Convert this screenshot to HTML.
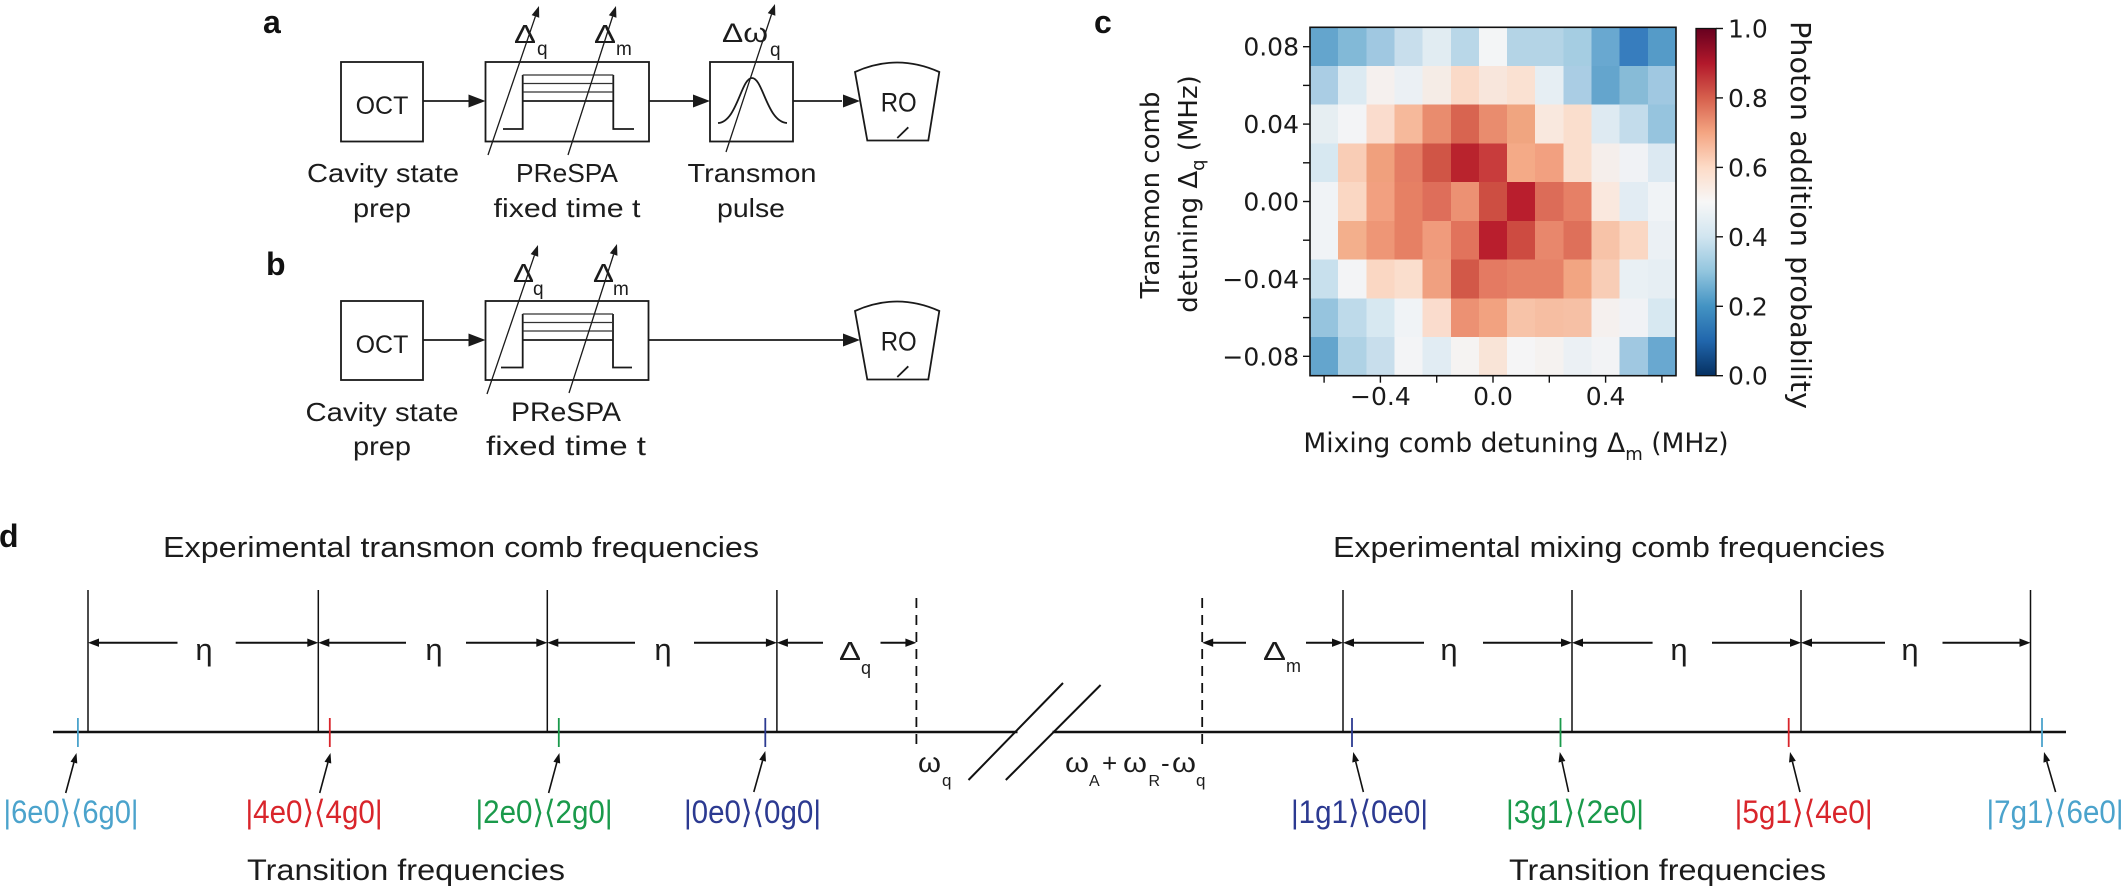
<!DOCTYPE html>
<html>
<head>
<meta charset="utf-8">
<style>
html,body{margin:0;padding:0;background:#fff;}
svg{display:block;}
.t{font-family:"Liberation Sans","DejaVu Sans",sans-serif;fill:#1c1c1c;}
.m{font-family:"DejaVu Sans","Liberation Sans",sans-serif;fill:#1a1a1a;}
.b{font-family:"Liberation Sans",sans-serif;font-weight:bold;fill:#111;}
</style>
</head>
<body>
<svg width="2124" height="888" viewBox="0 0 2124 888" xmlns="http://www.w3.org/2000/svg">
<rect width="2124" height="888" fill="#fff"/>

<!-- ================= PANEL A ================= -->
<text class="b" x="263" y="33" font-size="32">a</text>
<g stroke="#1a1a1a" stroke-width="1.8" fill="none">
  <rect x="341" y="62" width="82" height="79.5"/>
  <rect x="485.5" y="62" width="163.5" height="79.5"/>
  <rect x="710" y="62" width="83" height="79.5"/>
  <path d="M855,72 Q897,53 939.3,72 L928.3,140.5 L867.3,140.5 Z"/>
  <line x1="897.3" y1="138" x2="908.3" y2="127.3"/>
  <path d="M503,129 H522.7 V75 M522.7,101 H613.3 M613.3,75 V129 H634"/>
  <path d="M718,123 C737,122 741,78 752,78 C763,78 767,122 787,123"/>
  <line x1="423" y1="101" x2="470" y2="101"/>
  <line x1="649" y1="101" x2="695" y2="101"/>
  <line x1="793" y1="101" x2="842" y2="101"/>
</g>
<g stroke="#333" stroke-width="1.2">
  <line x1="522.7" y1="75" x2="613.3" y2="75"/>
  <line x1="522.7" y1="83.5" x2="613.3" y2="83.5"/>
  <line x1="522.7" y1="92" x2="613.3" y2="92"/>
</g>
<g fill="#1a1a1a">
  <polygon points="485.5,101 468.5,94.5 468.5,107.5"/>
  <polygon points="710,101 693,94.5 693,107.5"/>
  <polygon points="860,101 843,94.5 843,107.5"/>
</g>
<g stroke="#1a1a1a" stroke-width="1.3">
  <line x1="488" y1="155" x2="535.4" y2="16.4"/>
  <line x1="568" y1="155" x2="612.6" y2="16.5"/>
  <line x1="726" y1="152" x2="771.5" y2="14.4"/>
</g>
<g fill="#1a1a1a">
  <polygon points="539,6 539.22,17.71 531.66,15.11"/>
  <polygon points="616,6 616.44,17.70 608.82,15.24"/>
  <polygon points="775,4 775.34,15.70 767.74,13.18"/>
</g>
<text class="t" x="382" y="114" font-size="25" text-anchor="middle">OCT</text>
<text class="t" x="898.7" y="111.7" font-size="27" text-anchor="middle" textLength="36" lengthAdjust="spacingAndGlyphs">RO</text>
<text class="t" x="514" y="43" font-size="26" textLength="22" lengthAdjust="spacingAndGlyphs">Δ</text>
<text class="t" x="537" y="55" font-size="19">q</text>
<text class="t" x="594" y="43" font-size="26" textLength="22" lengthAdjust="spacingAndGlyphs">Δ</text>
<text class="t" x="616" y="55" font-size="19">m</text>
<text class="t" x="722" y="42" font-size="27" textLength="46" lengthAdjust="spacingAndGlyphs">Δω</text>
<text class="t" x="770" y="56" font-size="19">q</text>
<text class="t" x="383" y="182" font-size="26" text-anchor="middle" textLength="152" lengthAdjust="spacingAndGlyphs">Cavity state</text>
<text class="t" x="382" y="217" font-size="26" text-anchor="middle" textLength="58" lengthAdjust="spacingAndGlyphs">prep</text>
<text class="t" x="567" y="182" font-size="26" text-anchor="middle" textLength="102" lengthAdjust="spacingAndGlyphs">PReSPA</text>
<text class="t" x="567" y="217" font-size="26" text-anchor="middle" textLength="147" lengthAdjust="spacingAndGlyphs">fixed time t</text>
<text class="t" x="752" y="182" font-size="26" text-anchor="middle" textLength="129" lengthAdjust="spacingAndGlyphs">Transmon</text>
<text class="t" x="751" y="217" font-size="26" text-anchor="middle" textLength="68" lengthAdjust="spacingAndGlyphs">pulse</text>

<!-- ================= PANEL B ================= -->
<text class="b" x="266" y="275" font-size="32">b</text>
<g stroke="#1a1a1a" stroke-width="1.8" fill="none">
  <rect x="341" y="301" width="82" height="79"/>
  <rect x="485.5" y="301" width="163" height="79"/>
  <path d="M855,311 Q897,292 939.3,311 L928.3,379.5 L867.3,379.5 Z"/>
  <line x1="897.3" y1="377" x2="908.3" y2="366.3"/>
  <path d="M501,367.5 H522.7 V314 M522.7,340 H613 M613,314 V367.5 H632"/>
  <line x1="423" y1="340" x2="470" y2="340"/>
  <line x1="648.5" y1="340" x2="845" y2="340"/>
</g>
<g stroke="#333" stroke-width="1.2">
  <line x1="522.7" y1="314" x2="613" y2="314"/>
  <line x1="522.7" y1="322.5" x2="613" y2="322.5"/>
  <line x1="522.7" y1="331" x2="613" y2="331"/>
</g>
<g fill="#1a1a1a">
  <polygon points="485.5,340 468.5,333.5 468.5,346.5"/>
  <polygon points="860,340 843,333.5 843,346.5"/>
</g>
<g stroke="#1a1a1a" stroke-width="1.3">
  <line x1="487" y1="394" x2="534.4" y2="255.4"/>
  <line x1="569" y1="393" x2="613.6" y2="254.5"/>
</g>
<g fill="#1a1a1a">
  <polygon points="538,245 538.22,256.71 530.66,254.11"/>
  <polygon points="617,244 617.44,255.70 609.82,253.24"/>
</g>
<text class="t" x="382" y="353" font-size="25" text-anchor="middle">OCT</text>
<text class="t" x="898.7" y="350.7" font-size="27" text-anchor="middle" textLength="36" lengthAdjust="spacingAndGlyphs">RO</text>
<text class="t" x="513" y="282" font-size="26" textLength="21" lengthAdjust="spacingAndGlyphs">Δ</text>
<text class="t" x="533" y="295" font-size="19">q</text>
<text class="t" x="593" y="282" font-size="26" textLength="21" lengthAdjust="spacingAndGlyphs">Δ</text>
<text class="t" x="613" y="295" font-size="19">m</text>
<text class="t" x="382" y="421" font-size="26" text-anchor="middle" textLength="153" lengthAdjust="spacingAndGlyphs">Cavity state</text>
<text class="t" x="382" y="455" font-size="26" text-anchor="middle" textLength="58" lengthAdjust="spacingAndGlyphs">prep</text>
<text class="t" x="566" y="421" font-size="27" text-anchor="middle" textLength="110" lengthAdjust="spacingAndGlyphs">PReSPA</text>
<text class="t" x="566" y="455" font-size="27" text-anchor="middle" textLength="160" lengthAdjust="spacingAndGlyphs">fixed time t</text>

<!-- ================= PANEL C ================= -->
<text class="b" x="1094" y="33" font-size="32">c</text>
<svg x="1310" y="27.3" width="366" height="348.4" viewBox="0 0 13 9" preserveAspectRatio="none" shape-rendering="crispEdges">
<g>
<rect x="0" y="0" width="1.05" height="1.05" fill="rgb(100,165,205)"/>
<rect x="1" y="0" width="1.05" height="1.05" fill="rgb(130,185,215)"/>
<rect x="2" y="0" width="1.05" height="1.05" fill="rgb(160,200,225)"/>
<rect x="3" y="0" width="1.05" height="1.05" fill="rgb(200,222,236)"/>
<rect x="4" y="0" width="1.05" height="1.05" fill="rgb(225,236,242)"/>
<rect x="5" y="0" width="1.05" height="1.05" fill="rgb(185,215,232)"/>
<rect x="6" y="0" width="1.05" height="1.05" fill="rgb(243,245,246)"/>
<rect x="7" y="0" width="1.05" height="1.05" fill="rgb(180,212,230)"/>
<rect x="8" y="0" width="1.05" height="1.05" fill="rgb(180,212,230)"/>
<rect x="9" y="0" width="1.05" height="1.05" fill="rgb(165,205,226)"/>
<rect x="10" y="0" width="1.05" height="1.05" fill="rgb(105,168,208)"/>
<rect x="11" y="0" width="1.05" height="1.05" fill="rgb(55,125,190)"/>
<rect x="12" y="0" width="1.05" height="1.05" fill="rgb(85,155,200)"/>

<rect x="0" y="1" width="1.05" height="1.05" fill="rgb(170,205,228)"/>
<rect x="1" y="1" width="1.05" height="1.05" fill="rgb(220,234,242)"/>
<rect x="2" y="1" width="1.05" height="1.05" fill="rgb(245,240,238)"/>
<rect x="3" y="1" width="1.05" height="1.05" fill="rgb(235,240,244)"/>
<rect x="4" y="1" width="1.05" height="1.05" fill="rgb(245,236,230)"/>
<rect x="5" y="1" width="1.05" height="1.05" fill="rgb(250,218,200)"/>
<rect x="6" y="1" width="1.05" height="1.05" fill="rgb(248,230,220)"/>
<rect x="7" y="1" width="1.05" height="1.05" fill="rgb(250,225,210)"/>
<rect x="8" y="1" width="1.05" height="1.05" fill="rgb(230,238,243)"/>
<rect x="9" y="1" width="1.05" height="1.05" fill="rgb(170,205,228)"/>
<rect x="10" y="1" width="1.05" height="1.05" fill="rgb(100,165,205)"/>
<rect x="11" y="1" width="1.05" height="1.05" fill="rgb(135,187,215)"/>
<rect x="12" y="1" width="1.05" height="1.05" fill="rgb(160,200,225)"/>

<rect x="0" y="2" width="1.05" height="1.05" fill="rgb(230,238,242)"/>
<rect x="1" y="2" width="1.05" height="1.05" fill="rgb(243,244,246)"/>
<rect x="2" y="2" width="1.05" height="1.05" fill="rgb(250,220,205)"/>
<rect x="3" y="2" width="1.05" height="1.05" fill="rgb(246,185,155)"/>
<rect x="4" y="2" width="1.05" height="1.05" fill="rgb(233,140,110)"/>
<rect x="5" y="2" width="1.05" height="1.05" fill="rgb(216,100,80)"/>
<rect x="6" y="2" width="1.05" height="1.05" fill="rgb(233,140,110)"/>
<rect x="7" y="2" width="1.05" height="1.05" fill="rgb(240,165,128)"/>
<rect x="8" y="2" width="1.05" height="1.05" fill="rgb(249,232,222)"/>
<rect x="9" y="2" width="1.05" height="1.05" fill="rgb(250,222,205)"/>
<rect x="10" y="2" width="1.05" height="1.05" fill="rgb(222,234,242)"/>
<rect x="11" y="2" width="1.05" height="1.05" fill="rgb(195,220,235)"/>
<rect x="12" y="2" width="1.05" height="1.05" fill="rgb(150,196,222)"/>

<rect x="0" y="3" width="1.05" height="1.05" fill="rgb(215,232,241)"/>
<rect x="1" y="3" width="1.05" height="1.05" fill="rgb(249,205,182)"/>
<rect x="2" y="3" width="1.05" height="1.05" fill="rgb(240,160,125)"/>
<rect x="3" y="3" width="1.05" height="1.05" fill="rgb(228,125,100)"/>
<rect x="4" y="3" width="1.05" height="1.05" fill="rgb(208,85,70)"/>
<rect x="5" y="3" width="1.05" height="1.05" fill="rgb(185,35,45)"/>
<rect x="6" y="3" width="1.05" height="1.05" fill="rgb(200,60,60)"/>
<rect x="7" y="3" width="1.05" height="1.05" fill="rgb(244,170,135)"/>
<rect x="8" y="3" width="1.05" height="1.05" fill="rgb(242,160,128)"/>
<rect x="9" y="3" width="1.05" height="1.05" fill="rgb(250,222,205)"/>
<rect x="10" y="3" width="1.05" height="1.05" fill="rgb(245,238,235)"/>
<rect x="11" y="3" width="1.05" height="1.05" fill="rgb(240,242,245)"/>
<rect x="12" y="3" width="1.05" height="1.05" fill="rgb(220,233,242)"/>

<rect x="0" y="4" width="1.05" height="1.05" fill="rgb(240,243,246)"/>
<rect x="1" y="4" width="1.05" height="1.05" fill="rgb(250,215,195)"/>
<rect x="2" y="4" width="1.05" height="1.05" fill="rgb(242,160,128)"/>
<rect x="3" y="4" width="1.05" height="1.05" fill="rgb(230,128,100)"/>
<rect x="4" y="4" width="1.05" height="1.05" fill="rgb(222,110,90)"/>
<rect x="5" y="4" width="1.05" height="1.05" fill="rgb(236,145,115)"/>
<rect x="6" y="4" width="1.05" height="1.05" fill="rgb(205,78,66)"/>
<rect x="7" y="4" width="1.05" height="1.05" fill="rgb(185,30,45)"/>
<rect x="8" y="4" width="1.05" height="1.05" fill="rgb(220,108,88)"/>
<rect x="9" y="4" width="1.05" height="1.05" fill="rgb(230,128,102)"/>
<rect x="10" y="4" width="1.05" height="1.05" fill="rgb(250,232,222)"/>
<rect x="11" y="4" width="1.05" height="1.05" fill="rgb(226,236,243)"/>
<rect x="12" y="4" width="1.05" height="1.05" fill="rgb(240,243,246)"/>

<rect x="0" y="5" width="1.05" height="1.05" fill="rgb(240,243,246)"/>
<rect x="1" y="5" width="1.05" height="1.05" fill="rgb(243,175,140)"/>
<rect x="2" y="5" width="1.05" height="1.05" fill="rgb(238,150,118)"/>
<rect x="3" y="5" width="1.05" height="1.05" fill="rgb(230,128,100)"/>
<rect x="4" y="5" width="1.05" height="1.05" fill="rgb(240,155,124)"/>
<rect x="5" y="5" width="1.05" height="1.05" fill="rgb(225,115,92)"/>
<rect x="6" y="5" width="1.05" height="1.05" fill="rgb(185,30,45)"/>
<rect x="7" y="5" width="1.05" height="1.05" fill="rgb(205,75,65)"/>
<rect x="8" y="5" width="1.05" height="1.05" fill="rgb(232,135,108)"/>
<rect x="9" y="5" width="1.05" height="1.05" fill="rgb(222,112,90)"/>
<rect x="10" y="5" width="1.05" height="1.05" fill="rgb(247,195,168)"/>
<rect x="11" y="5" width="1.05" height="1.05" fill="rgb(250,215,195)"/>
<rect x="12" y="5" width="1.05" height="1.05" fill="rgb(235,240,244)"/>

<rect x="0" y="6" width="1.05" height="1.05" fill="rgb(200,224,237)"/>
<rect x="1" y="6" width="1.05" height="1.05" fill="rgb(243,244,246)"/>
<rect x="2" y="6" width="1.05" height="1.05" fill="rgb(250,215,195)"/>
<rect x="3" y="6" width="1.05" height="1.05" fill="rgb(250,222,205)"/>
<rect x="4" y="6" width="1.05" height="1.05" fill="rgb(240,160,128)"/>
<rect x="5" y="6" width="1.05" height="1.05" fill="rgb(210,88,72)"/>
<rect x="6" y="6" width="1.05" height="1.05" fill="rgb(228,122,98)"/>
<rect x="7" y="6" width="1.05" height="1.05" fill="rgb(230,130,103)"/>
<rect x="8" y="6" width="1.05" height="1.05" fill="rgb(230,130,103)"/>
<rect x="9" y="6" width="1.05" height="1.05" fill="rgb(242,165,130)"/>
<rect x="10" y="6" width="1.05" height="1.05" fill="rgb(248,205,182)"/>
<rect x="11" y="6" width="1.05" height="1.05" fill="rgb(233,240,244)"/>
<rect x="12" y="6" width="1.05" height="1.05" fill="rgb(230,238,243)"/>

<rect x="0" y="7" width="1.05" height="1.05" fill="rgb(150,196,222)"/>
<rect x="1" y="7" width="1.05" height="1.05" fill="rgb(190,218,234)"/>
<rect x="2" y="7" width="1.05" height="1.05" fill="rgb(215,232,241)"/>
<rect x="3" y="7" width="1.05" height="1.05" fill="rgb(240,243,246)"/>
<rect x="4" y="7" width="1.05" height="1.05" fill="rgb(250,220,205)"/>
<rect x="5" y="7" width="1.05" height="1.05" fill="rgb(236,145,115)"/>
<rect x="6" y="7" width="1.05" height="1.05" fill="rgb(242,162,128)"/>
<rect x="7" y="7" width="1.05" height="1.05" fill="rgb(247,195,168)"/>
<rect x="8" y="7" width="1.05" height="1.05" fill="rgb(246,190,162)"/>
<rect x="9" y="7" width="1.05" height="1.05" fill="rgb(246,192,165)"/>
<rect x="10" y="7" width="1.05" height="1.05" fill="rgb(245,240,238)"/>
<rect x="11" y="7" width="1.05" height="1.05" fill="rgb(240,242,245)"/>
<rect x="12" y="7" width="1.05" height="1.05" fill="rgb(215,232,241)"/>

<rect x="0" y="8" width="1.05" height="1.05" fill="rgb(100,165,205)"/>
<rect x="1" y="8" width="1.05" height="1.05" fill="rgb(175,210,229)"/>
<rect x="2" y="8" width="1.05" height="1.05" fill="rgb(200,222,236)"/>
<rect x="3" y="8" width="1.05" height="1.05" fill="rgb(243,244,246)"/>
<rect x="4" y="8" width="1.05" height="1.05" fill="rgb(225,236,243)"/>
<rect x="5" y="8" width="1.05" height="1.05" fill="rgb(245,243,242)"/>
<rect x="6" y="8" width="1.05" height="1.05" fill="rgb(249,228,215)"/>
<rect x="7" y="8" width="1.05" height="1.05" fill="rgb(245,245,246)"/>
<rect x="8" y="8" width="1.05" height="1.05" fill="rgb(245,242,240)"/>
<rect x="9" y="8" width="1.05" height="1.05" fill="rgb(235,240,244)"/>
<rect x="10" y="8" width="1.05" height="1.05" fill="rgb(242,243,245)"/>
<rect x="11" y="8" width="1.05" height="1.05" fill="rgb(160,200,225)"/>
<rect x="12" y="8" width="1.05" height="1.05" fill="rgb(105,168,208)"/>
</g>
</svg>
<rect x="1310" y="27.3" width="366" height="348.4" fill="none" stroke="#111" stroke-width="1.6"/>
<g stroke="#111" stroke-width="1.4">
  <line x1="1303" y1="46.7" x2="1310" y2="46.7"/>
  <line x1="1303" y1="85.4" x2="1310" y2="85.4"/>
  <line x1="1303" y1="124.1" x2="1310" y2="124.1"/>
  <line x1="1303" y1="162.8" x2="1310" y2="162.8"/>
  <line x1="1303" y1="201.5" x2="1310" y2="201.5"/>
  <line x1="1303" y1="240.2" x2="1310" y2="240.2"/>
  <line x1="1303" y1="278.9" x2="1310" y2="278.9"/>
  <line x1="1303" y1="317.6" x2="1310" y2="317.6"/>
  <line x1="1303" y1="356.3" x2="1310" y2="356.3"/>
  <line x1="1324.1" y1="375.7" x2="1324.1" y2="382.7"/>
  <line x1="1380.4" y1="375.7" x2="1380.4" y2="382.7"/>
  <line x1="1436.7" y1="375.7" x2="1436.7" y2="382.7"/>
  <line x1="1493" y1="375.7" x2="1493" y2="382.7"/>
  <line x1="1549.3" y1="375.7" x2="1549.3" y2="382.7"/>
  <line x1="1605.6" y1="375.7" x2="1605.6" y2="382.7"/>
  <line x1="1661.9" y1="375.7" x2="1661.9" y2="382.7"/>
</g>
<g class="m" font-size="25" text-anchor="end">
  <text x="1299" y="55.7">0.08</text>
  <text x="1299" y="133.1">0.04</text>
  <text x="1299" y="210.5">0.00</text>
  <text x="1299" y="287.9">−0.04</text>
  <text x="1299" y="365.3">−0.08</text>
</g>
<g class="m" font-size="25" text-anchor="middle">
  <text x="1380.4" y="405">−0.4</text>
  <text x="1493" y="405">0.0</text>
  <text x="1605.6" y="405">0.4</text>
</g>
<text class="m" font-size="26" text-anchor="middle" transform="translate(1159,195) rotate(-90)">Transmon comb</text>
<text class="m" font-size="26" text-anchor="middle" transform="translate(1197,194) rotate(-90)">detuning Δ<tspan font-size="18" dy="7">q</tspan><tspan dy="-7"> (MHz)</tspan></text>
<text class="m" font-size="26.5" text-anchor="middle" x="1516" y="452">Mixing comb detuning Δ<tspan font-size="18" dy="8">m</tspan><tspan dy="-8"> (MHz)</tspan></text>

<defs>
<linearGradient id="rdbu" x1="0" y1="0" x2="0" y2="1">
  <stop offset="0" stop-color="#67001f"/>
  <stop offset="0.1" stop-color="#b2182b"/>
  <stop offset="0.2" stop-color="#d6604d"/>
  <stop offset="0.3" stop-color="#f4a582"/>
  <stop offset="0.4" stop-color="#fddbc7"/>
  <stop offset="0.5" stop-color="#f7f7f7"/>
  <stop offset="0.6" stop-color="#d1e5f0"/>
  <stop offset="0.7" stop-color="#92c5de"/>
  <stop offset="0.8" stop-color="#4393c3"/>
  <stop offset="0.9" stop-color="#2166ac"/>
  <stop offset="1" stop-color="#053061"/>
</linearGradient>
</defs>
<rect x="1696" y="28.5" width="20" height="347.2" fill="url(#rdbu)" stroke="#111" stroke-width="1.3"/>
<g stroke="#111" stroke-width="1.4">
  <line x1="1716" y1="28.5" x2="1723" y2="28.5"/>
  <line x1="1716" y1="97.9" x2="1723" y2="97.9"/>
  <line x1="1716" y1="167.4" x2="1723" y2="167.4"/>
  <line x1="1716" y1="236.8" x2="1723" y2="236.8"/>
  <line x1="1716" y1="306.3" x2="1723" y2="306.3"/>
  <line x1="1716" y1="375.7" x2="1723" y2="375.7"/>
</g>
<g class="m" font-size="25">
  <text x="1728" y="37.5">1.0</text>
  <text x="1728" y="106.9">0.8</text>
  <text x="1728" y="176.4">0.6</text>
  <text x="1728" y="245.8">0.4</text>
  <text x="1728" y="315.3">0.2</text>
  <text x="1728" y="384.7">0.0</text>
</g>
<text class="m" font-size="28" text-anchor="middle" transform="translate(1791,215) rotate(90)" textLength="388" lengthAdjust="spacingAndGlyphs">Photon addition probability</text>

<!-- ================= PANEL D ================= -->
<text class="b" x="-1" y="547" font-size="32">d</text>
<text class="t" x="163" y="557" font-size="29" textLength="596" lengthAdjust="spacingAndGlyphs">Experimental transmon comb frequencies</text>
<text class="t" x="1333" y="557" font-size="29" textLength="552" lengthAdjust="spacingAndGlyphs">Experimental mixing comb frequencies</text>

<g stroke="#111" stroke-width="2.6">
  <line x1="53" y1="732" x2="1017.5" y2="732"/>
  <line x1="1052.5" y1="732" x2="2066" y2="732"/>
</g>
<g stroke="#111" stroke-width="2">
  <line x1="968.5" y1="780" x2="1063" y2="683"/>
  <line x1="1005.8" y1="780" x2="1100.6" y2="685"/>
</g>
<g stroke="#111" stroke-width="1.5">
  <line x1="88" y1="590" x2="88" y2="732"/>
  <line x1="318.3" y1="590" x2="318.3" y2="732"/>
  <line x1="547.3" y1="590" x2="547.3" y2="732"/>
  <line x1="776.9" y1="590" x2="776.9" y2="732"/>
  <line x1="1343" y1="590" x2="1343" y2="732"/>
  <line x1="1572" y1="590" x2="1572" y2="732"/>
  <line x1="1801" y1="590" x2="1801" y2="732"/>
  <line x1="2030.5" y1="590" x2="2030.5" y2="732"/>
</g>
<g stroke="#111" stroke-width="1.8" stroke-dasharray="10 7">
  <line x1="916.4" y1="598" x2="916.4" y2="746"/>
  <line x1="1202.2" y1="598" x2="1202.2" y2="746"/>
</g>
<g stroke-width="1.8">
  <line x1="77.9" y1="718" x2="77.9" y2="747" stroke="#4ba3cc"/>
  <line x1="329.8" y1="718" x2="329.8" y2="747" stroke="#d9252b"/>
  <line x1="558.8" y1="718" x2="558.8" y2="747" stroke="#1a9a4b"/>
  <line x1="765.3" y1="718" x2="765.3" y2="747" stroke="#2c3a91"/>
  <line x1="1352" y1="718" x2="1352" y2="747" stroke="#2c3a91"/>
  <line x1="1560.5" y1="718" x2="1560.5" y2="747" stroke="#1a9a4b"/>
  <line x1="1788.7" y1="718" x2="1788.7" y2="747" stroke="#d9252b"/>
  <line x1="2042" y1="718" x2="2042" y2="747" stroke="#4ba3cc"/>
</g>
<g stroke="#111" stroke-width="2">
  <line x1="95" y1="642.7" x2="177.5" y2="642.7"/>
  <line x1="235.7" y1="642.7" x2="311" y2="642.7"/>
  <line x1="325.3" y1="642.7" x2="406" y2="642.7"/>
  <line x1="466" y1="642.7" x2="540" y2="642.7"/>
  <line x1="554.3" y1="642.7" x2="635" y2="642.7"/>
  <line x1="694" y1="642.7" x2="770" y2="642.7"/>
  <line x1="784" y1="642.7" x2="823" y2="642.7"/>
  <line x1="880.5" y1="642.7" x2="909.4" y2="642.7"/>
  <line x1="1209.2" y1="642.7" x2="1246" y2="642.7"/>
  <line x1="1306" y1="642.7" x2="1336" y2="642.7"/>
  <line x1="1350" y1="642.7" x2="1424" y2="642.7"/>
  <line x1="1483" y1="642.7" x2="1565" y2="642.7"/>
  <line x1="1579" y1="642.7" x2="1652.6" y2="642.7"/>
  <line x1="1712" y1="642.7" x2="1794" y2="642.7"/>
  <line x1="1808" y1="642.7" x2="1885" y2="642.7"/>
  <line x1="1942.5" y1="642.7" x2="2023.5" y2="642.7"/>
</g>
<g fill="#111">
  <polygon points="88,642.7 99,638.5 99,646.9"/>
  <polygon points="318.3,642.7 307.3,638.5 307.3,646.9"/>
  <polygon points="318.3,642.7 329.3,638.5 329.3,646.9"/>
  <polygon points="547.3,642.7 536.3,638.5 536.3,646.9"/>
  <polygon points="547.3,642.7 558.3,638.5 558.3,646.9"/>
  <polygon points="776.9,642.7 765.9,638.5 765.9,646.9"/>
  <polygon points="776.9,642.7 787.9,638.5 787.9,646.9"/>
  <polygon points="916.4,642.7 905.4,638.5 905.4,646.9"/>
  <polygon points="1202.2,642.7 1213.2,638.5 1213.2,646.9"/>
  <polygon points="1343,642.7 1332,638.5 1332,646.9"/>
  <polygon points="1343,642.7 1354,638.5 1354,646.9"/>
  <polygon points="1572,642.7 1561,638.5 1561,646.9"/>
  <polygon points="1572,642.7 1583,638.5 1583,646.9"/>
  <polygon points="1801,642.7 1790,638.5 1790,646.9"/>
  <polygon points="1801,642.7 1812,638.5 1812,646.9"/>
  <polygon points="2030.5,642.7 2019.5,638.5 2019.5,646.9"/>
</g>
<g class="t" font-size="31" text-anchor="middle">
  <text x="204" y="660">η</text>
  <text x="434" y="660">η</text>
  <text x="663" y="660">η</text>
  <text x="1449" y="660">η</text>
  <text x="1679" y="660">η</text>
  <text x="1910" y="660">η</text>
</g>
<text class="t" x="839" y="660" font-size="26" textLength="22" lengthAdjust="spacingAndGlyphs">Δ</text>
<text class="t" x="861" y="674" font-size="18">q</text>
<text class="t" x="1263" y="660" font-size="26" textLength="23" lengthAdjust="spacingAndGlyphs">Δ</text>
<text class="t" x="1286" y="672" font-size="18">m</text>

<text class="t" x="918" y="772" font-size="28" textLength="23" lengthAdjust="spacingAndGlyphs">ω</text>
<text class="t" x="942" y="786" font-size="17">q</text>
<text class="t" x="1065" y="772" font-size="28" textLength="24" lengthAdjust="spacingAndGlyphs">ω</text>
<text class="t" x="1089" y="786" font-size="16">A</text>
<text class="t" x="1102" y="772" font-size="26">+</text>
<text class="t" x="1123" y="772" font-size="28" textLength="24" lengthAdjust="spacingAndGlyphs">ω</text>
<text class="t" x="1148.5" y="786" font-size="16">R</text>
<text class="t" x="1161" y="772" font-size="26">-</text>
<text class="t" x="1172" y="772" font-size="28" textLength="24" lengthAdjust="spacingAndGlyphs">ω</text>
<text class="t" x="1196" y="786" font-size="17">q</text>

<g stroke="#111" stroke-width="1.6">
  <line x1="65.7" y1="793" x2="73.9" y2="762.6"/>
  <line x1="319.7" y1="793" x2="327.9" y2="762.6"/>
  <line x1="548.6" y1="793" x2="556.8" y2="762.6"/>
  <line x1="753.8" y1="792" x2="762.6" y2="760.6"/>
  <line x1="1363.4" y1="792" x2="1355.7" y2="761.7"/>
  <line x1="1568.6" y1="792" x2="1562" y2="761.8"/>
  <line x1="1800" y1="792" x2="1792.4" y2="761.7"/>
  <line x1="2055.6" y1="792" x2="2046.8" y2="761.6"/>
</g>
<g fill="#111">
  <polygon points="76.5,753 77.27,763.56 70.51,761.74"/>
  <polygon points="330.5,753 331.27,763.56 324.51,761.74"/>
  <polygon points="559.4,753 560.17,763.56 553.41,761.74"/>
  <polygon points="765.3,751 765.97,761.58 759.23,759.69"/>
  <polygon points="1353.2,752 1359.06,760.83 1352.28,762.56"/>
  <polygon points="1559.8,752 1565.37,761.02 1558.53,762.52"/>
  <polygon points="1790,752 1795.83,760.85 1789.03,762.55"/>
  <polygon points="2044,752 2050.15,760.63 2043.43,762.58"/>
</g>

<g font-family="Liberation Sans, DejaVu Sans, sans-serif" font-size="32" text-anchor="middle">
  <text x="71" y="823" fill="#4ba3cc" textLength="135" lengthAdjust="spacingAndGlyphs">|6e0⟩⟨6g0|</text>
  <text x="314" y="823" fill="#d9252b" textLength="137" lengthAdjust="spacingAndGlyphs">|4e0⟩⟨4g0|</text>
  <text x="544" y="823" fill="#1a9a4b" textLength="137" lengthAdjust="spacingAndGlyphs">|2e0⟩⟨2g0|</text>
  <text x="752.5" y="823" fill="#2c3a91" textLength="137" lengthAdjust="spacingAndGlyphs">|0e0⟩⟨0g0|</text>
  <text x="1359.5" y="823" fill="#2c3a91" textLength="137" lengthAdjust="spacingAndGlyphs">|1g1⟩⟨0e0|</text>
  <text x="1575" y="823" fill="#1a9a4b" textLength="138" lengthAdjust="spacingAndGlyphs">|3g1⟩⟨2e0|</text>
  <text x="1803.6" y="823" fill="#d9252b" textLength="138" lengthAdjust="spacingAndGlyphs">|5g1⟩⟨4e0|</text>
  <text x="2055" y="823" fill="#4ba3cc" textLength="137" lengthAdjust="spacingAndGlyphs">|7g1⟩⟨6e0|</text>
</g>
<text class="t" x="247" y="880" font-size="30" textLength="318" lengthAdjust="spacingAndGlyphs">Transition frequencies</text>
<text class="t" x="1509" y="880" font-size="30" textLength="317" lengthAdjust="spacingAndGlyphs">Transition frequencies</text>
</svg>
</body>
</html>
